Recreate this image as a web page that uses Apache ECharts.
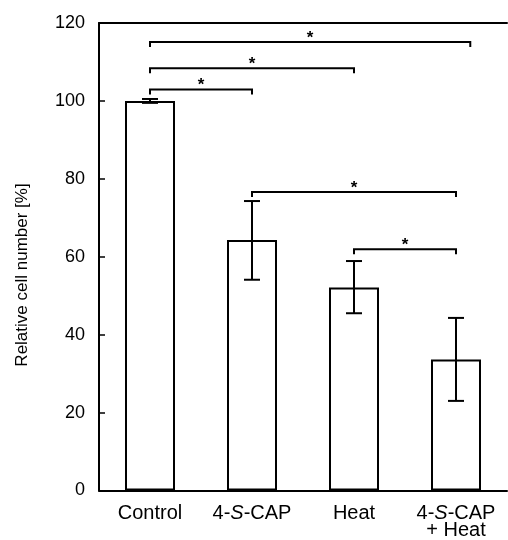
<!DOCTYPE html>
<html><head><meta charset="utf-8">
<script src="https://cdn.jsdelivr.net/npm/echarts@6/dist/echarts.min.js"></script>
<style>html,body{margin:0;padding:0;background:#fff}#c{width:508px;height:540px}</style>
</head><body><div id="c"></div>
<script>
// ---- data ----
const categories = ['Control', '4-{i|S}-CAP', 'Heat', '4-{i|S}-CAP\n+ Heat'];
const means   = [100, 64.3, 52.1, 33.6];
const errLow  = [99.5, 54.1, 45.5, 23.0];
const errHigh = [100.5, 74.3, 58.9, 44.3];
const yMin = 0, yMax = 120, yStep = 20;
const bracketFrom = [0, 0, 0, 1, 2];
const bracketTo   = [1, 2, 3.14, 3, 3];
const bracketY    = [102.9, 108.4, 115.1, 76.6, 61.9];
const bracketMark = ['*', '*', '*', '*', '*'];
const yName = 'Relative cell number [%]';

const FONT = '"Liberation Sans", Arial, Helvetica, sans-serif';
const chart = echarts.init(document.getElementById('c'), null, {renderer: 'canvas'});

function errRender(params, api) {
  const i = params.dataIndex;
  const top = api.coord([i, errHigh[i]]);
  const bot = api.coord([i, errLow[i]]);
  const hw = 8;
  const st = {stroke: '#000', lineWidth: 2};
  return {type: 'group', children: [
    {type: 'line', shape: {x1: top[0], y1: top[1], x2: bot[0], y2: bot[1]}, style: st},
    {type: 'line', shape: {x1: top[0]-hw, y1: top[1], x2: top[0]+hw, y2: top[1]}, style: st},
    {type: 'line', shape: {x1: bot[0]-hw, y1: bot[1], x2: bot[0]+hw, y2: bot[1]}, style: st}
  ]};
}

function bracketRender(params, api) {
  const i = params.dataIndex;
  const p0 = api.coord([0, bracketY[i]]);
  const p1 = api.coord([1, bracketY[i]]);
  const band = p1[0] - p0[0];
  const x1 = p0[0] + bracketFrom[i] * band;
  const x2 = p0[0] + bracketTo[i] * band;
  const y = p0[1];
  const leg = 5;
  const st = {stroke: '#000', lineWidth: 2, fill: null};
  return {type: 'group', children: [
    {type: 'polyline', shape: {points: [[x1, y + leg], [x1, y], [x2, y], [x2, y + leg]]}, style: st},
    {type: 'text', x: (x1 + x2) / 2, y: y - 4,
     style: {text: bracketMark[i], fill: '#000', font: 'bold 17px ' + FONT,
             textAlign: 'center', textVerticalAlign: 'middle', align: 'center', verticalAlign: 'middle'}}
  ]};
}

const labelStyle = {fontSize: 20, fontFamily: FONT, color: '#000', lineHeight: 17};

chart.setOption({
  animation: false,
  backgroundColor: '#fff',
  grid: {left: 99, right: 1, top: 23, bottom: 48, containLabel: false},
  xAxis: [{
    type: 'category', data: categories, position: 'bottom',
    axisLine: {lineStyle: {color: '#000', width: 2}},
    axisTick: {inside: true, length: 5, lineStyle: {color: '#000', width: 1.5}},
    axisLabel: Object.assign({margin: 14, interval: 0,
      rich: {i: Object.assign({fontStyle: 'italic'}, labelStyle)}}, labelStyle)
  }, {
    type: 'category', data: categories, position: 'top',
    axisLine: {lineStyle: {color: '#000', width: 2}},
    axisTick: {show: false}, axisLabel: {show: false}
  }],
  yAxis: {
    type: 'value', min: yMin, max: yMax, interval: yStep,
    axisLine: {show: true, lineStyle: {color: '#000', width: 2}},
    axisTick: {show: true, inside: true, length: 6, lineStyle: {color: '#000', width: 1.5}},
    axisLabel: {fontSize: 18, fontFamily: FONT, color: '#000', margin: 14},
    splitLine: {show: false}
  },
  graphic: [{
    type: 'text', x: 22, y: 275, rotation: Math.PI / 2,
    style: {text: yName, font: '17px ' + FONT, fill: '#000',
            textAlign: 'center', textVerticalAlign: 'middle', align: 'center', verticalAlign: 'middle'}
  }],
  series: [{
    type: 'bar', data: means, barWidth: 50,
    itemStyle: {color: '#fff', borderColor: '#000', borderWidth: 2},
    z: 2
  }, {
    type: 'custom', renderItem: errRender,
    data: means.map((m, i) => [i, m]), z: 5
  }, {
    type: 'custom', renderItem: bracketRender,
    data: bracketY.map((y, i) => [bracketFrom[i], y]), z: 5
  }]
});
</script>
</body></html>
